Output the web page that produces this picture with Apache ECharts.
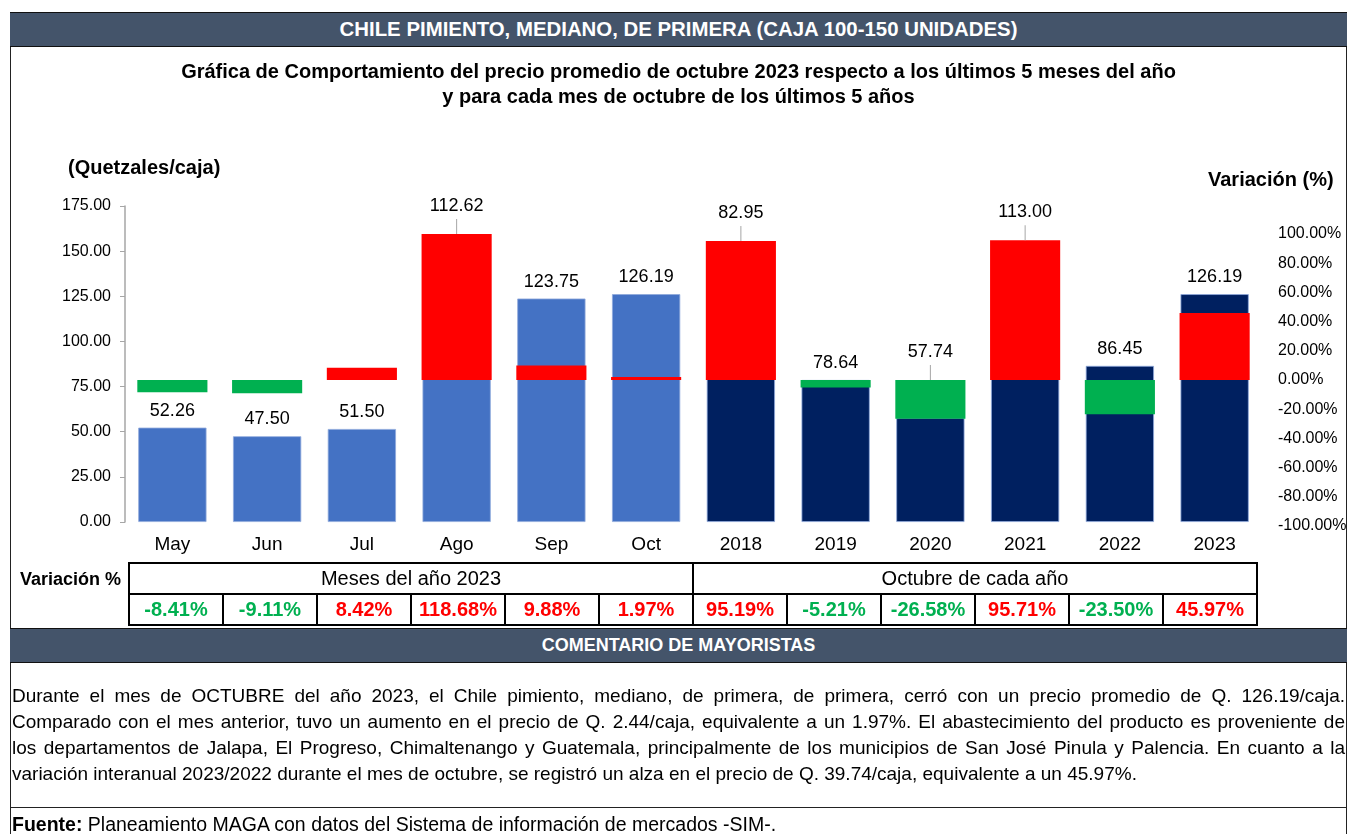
<!DOCTYPE html>
<html lang="es">
<head>
<meta charset="utf-8">
<title>Chile pimiento, mediano, de primera</title>
<script src="https://cdn.jsdelivr.net/npm/echarts@6/dist/echarts.min.js"></script>
<style>
  html, body { margin: 0; padding: 0; }
  body {
    width: 1350px; height: 834px; position: relative; overflow: hidden; background: #fff;
    font-family: 'Liberation Sans', Arial, sans-serif; color: #000;
  }
  #chart { position: absolute; left: 0; top: 0; width: 1350px; height: 834px; }
  .frame {
    position: absolute; left: 10px; top: 12px; width: 1337px; height: 830px;
    border: 1.5px solid #222; border-bottom: none; box-sizing: border-box;
  }
  .band {
    position: absolute; left: 10px; width: 1337px; background: #44546A; color: #fff;
    font-weight: bold; text-align: center; box-sizing: border-box;
    border-top: 1.5px solid #111; border-bottom: 1.5px solid #111;
  }
  .subtitle {
    position: absolute; left: 10px; width: 1337px; top: 59px; text-align: center;
    font-weight: bold; font-size: 20px; line-height: 25px;
  }
  .rowlabel { position: absolute; left: 20px; top: 566px; width: 108px; font-weight: bold; font-size: 18px; line-height: 26px; }
  table.var {
    position: absolute; left: 128px; top: 562px; width: 1130px; border-collapse: collapse;
    table-layout: fixed; font-size: 20px;
  }
  table.var td { border: 2px solid #000; text-align: center; height: 29px; padding: 0; }
  table.var tr.vals td { font-weight: bold; }
  .comment { position: absolute; left: 12px; width: 1333px; top: 683px; font-size: 19px; line-height: 26px; }
  .comment div { white-space: nowrap; text-align: justify; text-align-last: justify; }
  .comment div.last { text-align-last: left; }
  .rule { position: absolute; left: 10px; width: 1337px; top: 807px; border-top: 1.5px solid #222; }
  .source { position: absolute; left: 12px; top: 814px; font-size: 19.5px; line-height: 21px; }
</style>
</head>
<body>
<div id="chart"></div>
<div class="frame"></div>
<div class="band" style="top:12px;height:35px;font-size:20.4px;line-height:33px;">CHILE PIMIENTO, MEDIANO, DE PRIMERA (CAJA 100-150 UNIDADES)</div>
<div class="subtitle">Gráfica de Comportamiento del precio promedio de octubre 2023 respecto a los últimos 5 meses del año<br>y para cada mes de octubre de los últimos 5 años</div>
<div class="rowlabel">Variación %</div>
<table class="var" id="vartable"></table>
<div class="band" style="top:628px;height:35px;font-size:18px;line-height:32px;">COMENTARIO DE MAYORISTAS</div>
<div class="comment">
  <div>Durante el mes de OCTUBRE del año 2023, el Chile pimiento, mediano, de primera, de primera, cerró con un precio promedio de Q. 126.19/caja.</div>
  <div>Comparado con el mes anterior, tuvo un aumento en el precio de Q. 2.44/caja, equivalente a un 1.97%. El abastecimiento del producto es proveniente de</div>
  <div>los departamentos de Jalapa, El Progreso, Chimaltenango y Guatemala, principalmente de los municipios de San José Pinula y Palencia. En cuanto a la</div>
  <div class="last">variación interanual 2023/2022 durante el mes de octubre, se registró un alza en el precio de Q. 39.74/caja, equivalente a un 45.97%.</div>
</div>
<div class="rule"></div>
<div class="source"><b>Fuente:</b> Planeamiento MAGA con datos del Sistema de información de mercados -SIM-.</div>

<script>
// datos
const categories = ['May', 'Jun', 'Jul', 'Ago', 'Sep', 'Oct', '2018', '2019', '2020', '2021', '2022', '2023']
const prices = [52.26, 47.50, 51.50, 112.62, 123.75, 126.19, 82.95, 78.64, 57.74, 113.00, 86.45, 126.19]
const variation = [-8.41, -9.11, 8.42, 118.68, 9.88, 1.97, 95.19, -5.21, -26.58, 95.71, -23.50, 45.97]
const groupNames = ['Meses del año 2023', 'Octubre de cada año']
const groupSize = 6

const FONT = "'Liberation Sans', Arial, sans-serif"

// tabla de variacion
const table = document.getElementById('vartable')
let html = '<colgroup>' + categories.map(() => '<col>').join('') + '</colgroup>'
html += '<tr>' + groupNames.map(g => '<td colspan="' + groupSize + '">' + g + '</td>').join('') + '</tr>'
html += '<tr class="vals">' + variation.map(v =>
  '<td style="color:' + (v < 0 ? '#00B050' : '#FF0000') + '">' + v.toFixed(2) + '%</td>').join('') + '</tr>'
table.innerHTML = html

const chart = echarts.init(document.getElementById('chart'))

const option = {
  animation: false,
  textStyle: { fontFamily: FONT, color: '#000' },
  graphic: [
    { type: 'text', left: 68, top: 158, style: { text: '(Quetzales/caja)', font: 'bold 20px ' + FONT, fill: '#000' } },
    { type: 'text', left: 1208, top: 170, style: { text: 'Variación (%)', font: 'bold 20px ' + FONT, fill: '#000' } }
  ],
  grid: [
    { left: 125, right: 88, top: 206, bottom: 312 },
    { left: 125, right: 88, top: 234, bottom: 308 }
  ],
  xAxis: [
    {
      type: 'category', gridIndex: 0, data: categories,
      axisLine: { show: false }, axisTick: { show: false },
      axisLabel: { fontSize: 19, color: '#000', margin: 13 }
    },
    { type: 'category', gridIndex: 1, data: categories, show: false }
  ],
  yAxis: [
    {
      type: 'value', gridIndex: 0, min: 0, max: 175, interval: 25,
      axisLine: { show: true, lineStyle: { color: '#A6A6A6', width: 1.5 } },
      axisTick: { show: true, length: 5, lineStyle: { color: '#A6A6A6' } },
      splitLine: { show: false },
      axisLabel: { fontSize: 16, color: '#000', margin: 14, formatter: v => v.toFixed(2) }
    },
    {
      type: 'value', gridIndex: 1, position: 'right', min: -100, max: 100, interval: 20,
      axisLine: { show: false }, axisTick: { show: false }, splitLine: { show: false },
      axisLabel: { fontSize: 16, color: '#000', margin: 16, formatter: v => v.toFixed(2) + '%' }
    }
  ],
  series: [
    {
      name: 'Precio', type: 'bar', xAxisIndex: 0, yAxisIndex: 0, barWidth: '72%',
      data: prices,
      itemStyle: {
        color: p => p.dataIndex < groupSize ? '#4472C4' : '#002060',
        borderColor: '#8FAADC', borderWidth: 0.8
      },
      z: 2
    },
    {
      name: 'Variación', type: 'bar', xAxisIndex: 1, yAxisIndex: 1, barWidth: '74%',
      data: variation, clip: true,
      itemStyle: { color: p => p.value < 0 ? '#00B050' : '#FF0000' },
      z: 3
    },
    {
      // etiquetas de precio, sobre la barra que quede más arriba
      name: 'Etiquetas', type: 'custom', xAxisIndex: 0, yAxisIndex: 0, z: 10, silent: true,
      data: prices.map((p, i) => [i, p, variation[i]]),
      renderItem: function (params, api) {
        const i = api.value(0)
        const price = api.value(1)
        const v = api.value(2)
        const top = api.coord([i, price])
        const vTop = chart.convertToPixel({ gridIndex: 1 }, [i, Math.min(Math.max(v, 0), 100)])[1]
        const vBot = chart.convertToPixel({ gridIndex: 1 }, [i, Math.min(v, 0)])[1]
        const onVar = vTop < top[1] - 3 && top[1] - vBot < 30
        const anchor = onVar ? vTop : top[1]
        const children = [{
          type: 'text', x: top[0], y: onVar ? anchor - 28 : anchor - 17,
          style: { text: price.toFixed(2), fill: '#000', fontSize: 18, fontFamily: FONT, align: 'center', verticalAlign: 'middle' }
        }]
        if (onVar) {
          children.push({
            type: 'line', shape: { x1: top[0], y1: anchor - 15, x2: top[0], y2: anchor },
            style: { stroke: '#A6A6A6', lineWidth: 1 }
          })
        }
        return { type: 'group', children: children }
      }
    }
  ]
}

chart.setOption(option)
</script>
</body>
</html>
